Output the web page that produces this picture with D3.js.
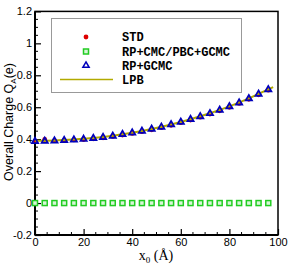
<!DOCTYPE html>
<html><head><meta charset="utf-8">
<script src="https://cdn.jsdelivr.net/npm/d3@7"></script>
<style>body{margin:0;background:#fff}svg{display:block}</style>
</head><body>
<svg id="c" width="291" height="266"></svg>
<script>
// ---- data ----
const xPositions = [0,4,8,12,16,20,24,28,32,36,40,44,48,52,56,60,64,68,72,76,80,84,88,92,96];
const stdValues  = [0.388,0.398,0.391,0.392,0.395,0.398,0.402,0.409,0.417,0.426,0.436,0.447,0.459,0.472,0.487,0.503,0.520,0.538,0.557,0.578,0.600,0.624,0.650,0.678,0.707];
const rpCmcValues = [0,0,0,0,0,0,0,0,0,0,0,0,0,0,0,0,0,0,0,0,0,0,0,0,0];
const rpGcmcValues = [0.386,0.388,0.390,0.393,0.396,0.400,0.405,0.412,0.420,0.430,0.440,0.451,0.463,0.476,0.491,0.507,0.524,0.542,0.561,0.582,0.604,0.628,0.654,0.682,0.711];
const lpbX = [0,8,16,24,32,40,48,56,64,72,80,88,96,98];
const lpbValues = [0.390,0.392,0.398,0.407,0.421,0.440,0.464,0.492,0.525,0.562,0.605,0.655,0.712,0.726];
const xTicks = [0,20,40,60,80,100];
const xTickLabels = ["0","20","40","60","80","100"];
const yTicks = [-0.2,0,0.2,0.4,0.6,0.8,1,1.2];
const yTickLabels = ["-0.2","0","0.2","0.4","0.6","0.8","1","1.2"];
const seriesNames = ["STD","RP+CMC/PBC+GCMC","RP+GCMC","LPB"];

const svg = d3.select("#c");
const x = d3.scaleLinear().domain([0,100]).range([35,278]);
const y = d3.scaleLinear().domain([-0.2,1.2]).range([235,11.4]);

const red="#dd0000", green="#22cc22", blue="#0000bb", olive="#b2aa00";

// minor ticks
const xMinor = d3.range(0,101,5).filter(v=>v%20!==0);
const yMinor = d3.range(-0.2,1.2001,0.05).map(v=>+v.toFixed(2)).filter(v=>Math.abs(Math.round(v*5)-v*5)>1e-6);
svg.append("g").selectAll("line").data(xMinor).join("line")
  .attr("x1",d=>x(d)).attr("x2",d=>x(d)).attr("y1",y(-0.2)).attr("y2",y(-0.2)-3)
  .attr("stroke","#000").attr("stroke-width",1);
svg.append("g").selectAll("line").data(yMinor).join("line")
  .attr("x1",x(0)).attr("x2",x(0)+3).attr("y1",d=>y(d)).attr("y2",d=>y(d))
  .attr("stroke","#000").attr("stroke-width",1);

// axes
const gx = svg.append("g").attr("transform",`translate(0,${y(-0.2)})`)
  .call(d3.axisBottom(x).tickValues(xTicks).tickSize(-6).tickPadding(3)
    .tickFormat((d,i)=>xTickLabels[i]));
const gy = svg.append("g").attr("transform",`translate(${x(0)},0)`)
  .call(d3.axisLeft(y).tickValues(yTicks).tickSize(-6).tickPadding(3)
    .tickFormat((d,i)=>yTickLabels[i]));
[gx,gy].forEach(g=>{
  g.select(".domain").remove();
  g.selectAll(".tick line").attr("stroke","#000").attr("stroke-width",1.2);
  g.selectAll(".tick text").attr("fill","#000").style("font-family","Liberation Sans, Arial, sans-serif").style("font-size","11px");
});

// frame
svg.append("rect").attr("x",x(0)).attr("y",y(1.2)).attr("width",x(100)-x(0)).attr("height",y(-0.2)-y(1.2))
  .attr("fill","none").attr("stroke","#000").attr("stroke-width",1.5);
svg.append("line").attr("x1",x(0)).attr("x2",x(0)).attr("y1",y(1.2)).attr("y2",y(-0.2)).attr("stroke","#000").attr("stroke-width",2);
svg.append("line").attr("x1",x(0)).attr("x2",x(100)).attr("y1",y(-0.2)).attr("y2",y(-0.2)).attr("stroke","#000").attr("stroke-width",2);

// series: STD circles
svg.append("g").selectAll("circle").data(xPositions).join("circle")
  .attr("cx",d=>x(d)).attr("cy",(d,i)=>y(stdValues[i])).attr("r",2.4).attr("fill",red);
// LPB line
svg.append("path").datum(lpbX.map((d,i)=>[d,lpbValues[i]]))
  .attr("d",d3.line().x(d=>x(d[0])).y(d=>y(d[1])).curve(d3.curveMonotoneX))
  .attr("fill","none").attr("stroke",olive).attr("stroke-width",2);
// green squares
svg.append("g").selectAll("rect").data(xPositions).join("rect")
  .attr("x",d=>x(d)-2.5).attr("y",(d,i)=>y(rpCmcValues[i])-2.5).attr("width",5).attr("height",5)
  .attr("fill","#d8f5d8").attr("stroke",green).attr("stroke-width",1.5);
// triangles
const tri = d3.symbol().type(d3.symbolTriangle).size(17);
svg.append("g").selectAll("path").data(xPositions).join("path")
  .attr("d",tri).attr("transform",(d,i)=>`translate(${x(d)},${y(rpGcmcValues[i])})`)
  .attr("fill","none").attr("stroke",blue).attr("stroke-width",1.7);

// legend
const lg = svg.append("g");
lg.append("rect").attr("x",51.5).attr("y",18.5).attr("width",190).attr("height",74)
  .attr("fill","#fff").attr("stroke","#999").attr("stroke-width",1);
const rowsY = [37,51.5,65.5,79.5];
const mx = 86;
lg.append("circle").attr("cx",mx).attr("cy",rowsY[0]).attr("r",2.4).attr("fill",red);
lg.append("rect").attr("x",mx-2.5).attr("y",rowsY[1]-2.5).attr("width",5).attr("height",5)
  .attr("fill","#d8f5d8").attr("stroke",green).attr("stroke-width",1.5);
lg.append("path").attr("d",tri).attr("transform",`translate(${mx},${rowsY[2]})`)
  .attr("fill","none").attr("stroke",blue).attr("stroke-width",1.5);
lg.append("line").attr("x1",60).attr("x2",113).attr("y1",rowsY[3]).attr("y2",rowsY[3])
  .attr("stroke",olive).attr("stroke-width",1.5);
lg.selectAll("text").data(seriesNames).join("text")
  .attr("x",122).attr("y",(d,i)=>rowsY[i]).attr("dy","0.35em")
  .style("font-family","Liberation Mono, Courier New, monospace").style("font-weight","bold").style("font-size","12px")
  .text(d=>d);

// axis titles
const yt = svg.append("text").attr("transform","translate(13,122) rotate(-90)").attr("text-anchor","middle")
  .style("font-family","Liberation Sans, Arial, sans-serif").style("font-size","12.5px");
yt.append("tspan").text("Overall Charge Q");
yt.append("tspan").attr("dy",3).style("font-size","8px").text("A");
yt.append("tspan").attr("dy",-3).text("(e)");
const xt = svg.append("text").attr("x",156).attr("y",260).attr("text-anchor","middle")
  .style("font-family","Liberation Serif, Times New Roman, serif").style("font-size","14px");
xt.append("tspan").text("x");
xt.append("tspan").attr("dy",3).style("font-size","9px").text("0");
xt.append("tspan").attr("dy",-3).text(" (Å)");
</script>
</body></html>
